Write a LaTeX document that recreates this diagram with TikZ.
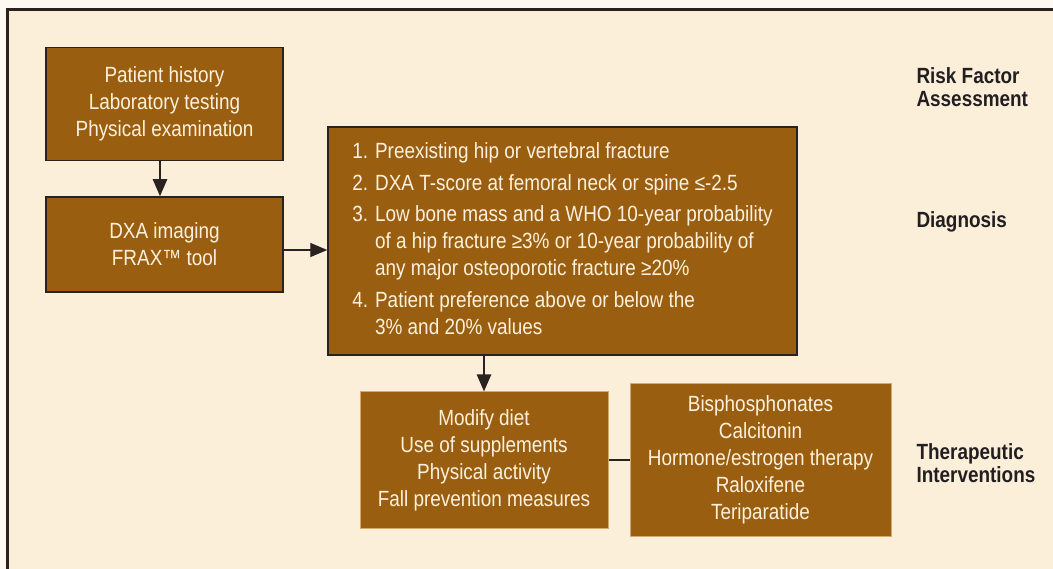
\documentclass[tikz,border=0pt]{standalone}
\usepackage{fontspec}
\setmainfont[FakeStretch=0.86]{Liberation Sans}
\usetikzlibrary{arrows.meta,positioning}

\definecolor{pagebg}{RGB}{253,249,242}
\definecolor{panelbg}{RGB}{252,239,218}
\definecolor{boxbrown}{RGB}{154,94,16}
\definecolor{boxtext}{RGB}{253,241,222}
\definecolor{darkline}{RGB}{40,34,32}
\definecolor{tanline}{RGB}{214,170,110}
\definecolor{labeltext}{RGB}{35,31,32}

\begin{document}
\begin{tikzpicture}[x=1pt, y=-1pt,
    box/.style={fill=boxbrown, text=boxtext, align=center, inner sep=0pt,
        font=\fontsize{22}{27}\selectfont},
    topbox/.style={box, draw=darkline, line width=1.5pt},
    lowbox/.style={box, draw=tanline, line width=1pt},
    steplabel/.style={anchor=west, align=left, text=labeltext,
        font=\fontsize{22}{23}\selectfont\bfseries},
    flow/.style={draw=darkline, -{Triangle[length=17pt,width=14pt]}}]
    % Page and panel
    \useasboundingbox[fill=pagebg] (0,0) rectangle (1053,569);
    \draw[fill=panelbg, draw=darkline, line width=3pt] (7,10) rectangle (1070,590);

    % Boxes
    \node[topbox, minimum width=237pt, minimum height=113pt] (history) at (164.5,104)
        {Patient history\\Laboratory testing\\Physical examination};
    \node[topbox, minimum width=237pt, minimum height=95pt] (imaging) at (164.5,244.5)
        {DXA imaging\\FRAX™ tool};
    \node[topbox, minimum width=469pt, minimum height=228pt] (criteria) at (562.5,241) {%
        \raisebox{-2pt}{\begin{tabular}{@{}r@{\hspace{7pt}}l@{}}
        1. & Preexisting hip or vertebral fracture\\[4.5pt]
        2. & DXA T-score at femoral neck or spine ≤-2.5\\[4.5pt]
        3. & Low bone mass and a WHO 10-year probability\\
           & of a hip fracture ≥3\% or 10-year probability of\\
           & any major osteoporotic fracture ≥20\%\\[4.5pt]
        4. & Patient preference above or below the\\
           & 3\% and 20\% values
        \end{tabular}}};
    \node[lowbox, minimum width=248pt, minimum height=136pt] (lifestyle) at (484,460)
        {Modify diet\\Use of supplements\\Physical activity\\Fall prevention measures};
    \node[lowbox, minimum width=261pt, minimum height=153pt] (drugs) at (760.5,460)
        {Bisphosphonates\\Calcitonin\\Hormone/estrogen therapy\\Raloxifene\\Teriparatide};

    % Stage labels
    \node[steplabel] (riskfactor) at (913,87) {Risk Factor\\Assessment};
    \node[steplabel] (diagnosis) at (913,222) {Diagnosis};
    \node[steplabel] (therapy) at (913,463) {Therapeutic\\Interventions};

    % Connectors
    \draw[flow, line width=2.5pt] ([xshift=-4.5pt]history.south) -- ([xshift=-4.5pt]imaging.north);
    \draw[flow, line width=1.3pt] ([yshift=-5.5pt]imaging.east) -- ([yshift=-5.5pt]imaging.east -| criteria.west);
    \draw[flow, line width=2.5pt] (lifestyle.north |- criteria.south) -- (lifestyle.north);
    \draw[darkline, line width=2pt] (lifestyle.east) -- (lifestyle.east -| drugs.west);
\end{tikzpicture}
\end{document}
